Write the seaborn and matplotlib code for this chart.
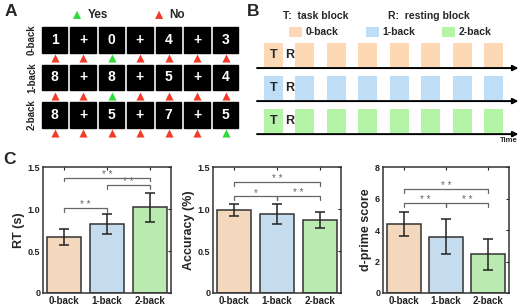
import matplotlib
matplotlib.use('Agg')
import matplotlib.pyplot as plt
import seaborn as sns
from matplotlib.patches import Rectangle

# ---------------------------
# Data
# ---------------------------
conditions = ['0-back', '1-back', '2-back']
bar_colors = ['#FCD8B5', '#BEDDF6', '#B3F4A6']
tri_red = '#F03C28'
tri_green = '#2EDB3A'

# panel A: stimulus sequences and target flags
stimuli = [['1', '+', '0', '+', '4', '+', '3'],
           ['8', '+', '8', '+', '5', '+', '4'],
           ['8', '+', '5', '+', '7', '+', '5']]
targets = [[0, 0, 1, 0, 0, 0, 0],
           [0, 0, 1, 0, 0, 0, 0],
           [0, 0, 0, 0, 0, 0, 1]]

# panel B: blocks per run
n_blocks = 8

# panel C
rt_mean = [0.67, 0.82, 1.02]
rt_err = [0.097, 0.117, 0.175]
acc_mean = [0.99, 0.94, 0.87]
acc_err = [0.068, 0.115, 0.10]
dp_mean = [4.38, 3.58, 2.45]
dp_err = [0.77, 1.11, 1.0]

rt_sig = [(0, 1, 1.01, '* *'), (1, 2, 1.28, '* *'), (0, 2, 1.375, '* *')]
acc_sig = [(0, 1, 1.155, '*'), (1, 2, 1.155, '* *'), (0, 2, 1.32, '* *')]
dp_sig = [(0, 1, 5.73, '* *'), (1, 2, 5.73, '* *'), (0, 2, 6.6, '* *')]

# ---------------------------
# Figure setup
# ---------------------------
sns.set_style('white')
plt.rcParams['font.family'] = ['Liberation Sans', 'DejaVu Sans']
W, H = 520, 306
fig = plt.figure(figsize=(W / 100, H / 100), dpi=100)


def px_axes(l, t, r, b):
    return fig.add_axes([l / W, 1 - b / H, (r - l) / W, (b - t) / H])


fig.text(5 / W, 1 - 12 / H, 'A', fontsize=12.5, fontweight='bold', va='center')
fig.text(247 / W, 1 - 12 / H, 'B', fontsize=12.5, fontweight='bold', va='center')
fig.text(3 / W, 1 - 160 / H, 'C', fontsize=12.5, fontweight='bold', va='center')

# ---------------------------
# Panel A
# ---------------------------
axA = px_axes(40.25, 21.25, 239.75, 143.1)
axA.set_xlim(-0.5, 6.5)
axA.set_ylim(2.75, -0.5)
axA.axis('off')
for r, row in enumerate(stimuli):
    for i, s in enumerate(row):
        axA.add_patch(Rectangle((i - 0.44, r - 0.345), 0.88, 0.69, color='black'))
        axA.text(i, r, s, color='white', fontsize=10, fontweight='bold',
                 ha='center', va='center')
        c = tri_green if targets[r][i] else tri_red
        axA.scatter(i, r + 0.49, marker='^', s=34, color=c, linewidths=0, clip_on=False)
    axA.text(-0.79, r, conditions[r], rotation=90, fontsize=7, fontweight='bold',
             ha='center', va='center')
axA.scatter([0.79, 3.67], [-0.67, -0.67], marker='^', s=34,
            color=[tri_green, tri_red], linewidths=0, clip_on=False)
axA.text(1.15, -0.67, 'Yes', fontsize=8.5, fontweight='bold', va='center')
axA.text(4.03, -0.67, 'No', fontsize=8.5, fontweight='bold', va='center')

# ---------------------------
# Panel B
# ---------------------------
axB = px_axes(254.5, 0, 520, 148)
axB.set_xlim(-0.3, 8.13)
axB.set_ylim(-2.42, 2.06)
axB.axis('off')
for r, c in enumerate(bar_colors):
    for i in range(n_blocks):
        axB.add_patch(Rectangle((i, -r + 0.03), 0.6, 0.73, color=c, lw=0))
    axB.annotate('', xy=(8.08, -r), xytext=(-0.22, -r),
                 arrowprops=dict(arrowstyle='-|>', lw=1.4, color='black',
                                 mutation_scale=8, shrinkA=0, shrinkB=0))
    axB.text(0.3, -r + 0.4, 'T', fontsize=9, fontweight='bold', ha='center', va='center')
    axB.text(0.83, -r + 0.4, 'R', fontsize=9, fontweight='bold', ha='center', va='center')
axB.text(0.6, 1.58, 'T:  task block', fontsize=7.5, fontweight='bold', va='center')
axB.text(3.94, 1.58, 'R:  resting block', fontsize=7.5, fontweight='bold', va='center')
for lx, c, lab in zip([0.79, 3.24, 5.65], bar_colors, conditions):
    axB.add_patch(Rectangle((lx, 0.94), 0.41, 0.3, color=c, lw=0))
    axB.text(lx + 0.52, 1.09, lab, fontsize=7.5, fontweight='bold', va='center')
axB.text(8.05, -2.18, 'Time', fontsize=5.5, fontweight='bold', ha='right', va='center')

# ---------------------------
# Panel C
# ---------------------------
panels = [
    (43, 171, rt_mean, rt_err, rt_sig, 'RT (s)', [0, 0.5, 1.0, 1.5], ['0', '0.5', '1.0', '1.5'], 1.5),
    (213, 341, acc_mean, acc_err, acc_sig, 'Accuracy (%)', [0, 0.5, 1.0, 1.5], ['0', '0.5', '1.0', '1.5'], 1.5),
    (383, 509, dp_mean, dp_err, dp_sig, 'd-prime score', [0, 2, 4, 6, 8], ['0', '2', '4', '6', '8'], 8),
]
for l, r, means, errs, sig, ylab, yt, ytl, ymax in panels:
    ax = px_axes(l, 167, r, 293)
    sns.barplot(x=conditions, y=means, hue=conditions, palette=bar_colors,
                edgecolor='#333333', linewidth=1.1, width=0.8, legend=False, ax=ax)
    ax.errorbar(range(3), means, yerr=errs, fmt='none', ecolor='#222222',
                elinewidth=1.1, capsize=3.5, capthick=1.1)
    ax.set_xlim(-0.5, 2.5)
    ax.set_ylim(0, ymax)
    ax.set_yticks(yt)
    ax.set_yticklabels(ytl, fontsize=6.5, fontweight='bold')
    ax.set_xticks(range(3))
    ax.set_xticklabels(conditions, fontsize=7, fontweight='bold')
    ax.set_ylabel(ylab, fontsize=9, fontweight='bold', labelpad=2)
    ax.tick_params(direction='in', length=2.5, width=0.8, top=True, right=True,
                   pad=2, colors='#222222')
    for sp in ax.spines.values():
        sp.set_color('#333333')
        sp.set_linewidth(1.1)
    leg = ymax * 0.03
    for i, j, y, lab in sig:
        ax.plot([i, i, j, j], [y - leg, y, y, y - leg], color='#666666', lw=0.9)
        ax.text((i + j) / 2, y, lab, color='#666666', fontsize=7,
                ha='center', va='baseline')
    ax.set_xlabel('')

fig.savefig('out.png', dpi=100)
